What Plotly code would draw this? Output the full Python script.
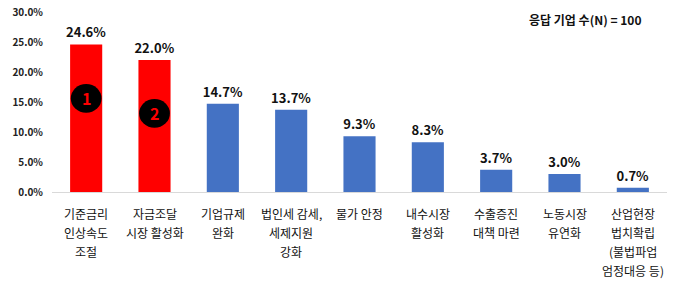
import plotly.graph_objects as go

categories = ["기준금리<br>인상속도<br>조절", "자금조달<br>시장 활성화", "기업규제<br>완화", "법인세 감세,<br>세제지원<br>강화",
              "물가 안정", "내수시장<br>활성화", "수출증진<br>대책 마련", "노동시장<br>유연화",
              "산업현장<br>법치확립<br>(불법파업<br>엄정대응 등)"]
values = [24.6, 22.0, 14.7, 13.7, 9.3, 8.3, 3.7, 3.0, 0.7]
colors = ["#FF0000", "#FF0000"] + ["#4472C4"] * 7
tick_vals = [0, 5, 10, 15, 20, 25, 30]
tick_text = ["0.0%", "5.0%", "10.0%", "15.0%", "20.0%", "25.0%", "30.0%"]
ranks = ["1", "2"]
rank_y = [15.6, 13.1]

FONT = "Noto Sans CJK KR"
xs = list(range(len(categories)))

fig = go.Figure()
fig.add_trace(go.Bar(
    x=xs, y=values, marker=dict(color=colors, line=dict(width=0)),
    text=[f"{v:.1f}%" for v in values], textposition="outside", constraintext="none",
    textfont=dict(family=FONT, size=13, color="#111111", weight="bold"),
    cliponaxis=False, hoverinfo="skip",
))

# category labels as annotations (line by line)
for i, c in enumerate(categories):
    for j, line in enumerate(c.split("<br>")):
        fig.add_annotation(x=i, y=0, xref="x", yref="y", text=line, showarrow=False,
                           yanchor="middle", yshift=-21 - j * 19,
                           font=dict(family=FONT, size=12, color="#111111"))

# rank ellipses
for i, (r, yy) in enumerate(zip(ranks, rank_y)):
    fig.add_shape(type="circle", xref="x", yref="y", x0=i - 0.225, x1=i + 0.225,
                  y0=yy - 2.4, y1=yy + 2.4, fillcolor="#000000", line=dict(color="#000000", width=0))
    fig.add_annotation(x=i, y=yy, xref="x", yref="y", text=f"<b>{r}</b>", showarrow=False,
                       font=dict(family=FONT, size=16, color="#FF0000"))

fig.add_annotation(x=0.961, y=1.0, xref="paper", yref="paper", text="응답 기업 수(N) = 100",
                   showarrow=False, xanchor="right", yanchor="middle", yshift=-7,
                   font=dict(family=FONT, size=12, color="#111111", weight=600))

fig.update_layout(
    width=680, height=285, margin=dict(l=52, r=13, t=12, b=93),
    plot_bgcolor="white", paper_bgcolor="white", showlegend=False, bargap=0.53,
    font=dict(family=FONT),
)
fig.update_xaxes(showticklabels=False, showgrid=False, zeroline=False, showline=True,
                 linecolor="#D9D9D9", linewidth=1, range=[-0.5, 8.5], automargin=False)
fig.update_yaxes(range=[0, 30], tickvals=tick_vals, ticktext=tick_text, showgrid=False,
                 zeroline=False, showline=False, ticks="", ticklabelstandoff=8, automargin=False,
                 tickfont=dict(family=FONT, size=10, color="#222222", weight="bold"))

fig.write_html("out.html")
